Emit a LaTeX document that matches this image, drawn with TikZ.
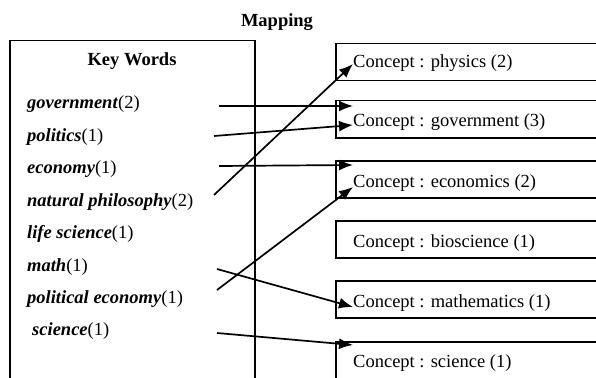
\documentclass[tikz,border=0pt]{standalone}
\usepackage{fontspec}
\setmainfont{Liberation Serif}
\usetikzlibrary{arrows.meta}
\begin{document}
\begin{tikzpicture}[x=1pt,y=-1pt,
  txt/.style={font=\fontsize{18.5}{22}\selectfont, inner sep=0pt, anchor=base west},
  ttl/.style={font=\fontsize{18.5}{22}\selectfont\bfseries, inner sep=0pt, anchor=base},
  kw/.style={txt},
  cbox/.style={draw, line width=1.5pt, anchor=north west, minimum width=300pt, minimum height=37pt, inner sep=0pt},
  conn/.style={line width=1.7pt, -{Latex[length=14pt,width=11pt]}}]
\clip (0,0) rectangle (596,377);
\useasboundingbox (0,0) rectangle (596,377);
% title
\node[ttl] (map) at (277,27) {Mapping};
% left box
\node[draw, line width=1.5pt, anchor=north west, minimum width=245pt, minimum height=360pt, inner sep=0pt] (kbox) at (9,40) {};
\node[ttl] (kwt) at (132,66) {Key Words};
\node[kw] (k1) at (27,109) {\textbf{\textit{government}}(2)};
\node[kw] (k2) at (27,141.4) {\textbf{\textit{politics}}(1)};
\node[kw] (k3) at (27,173.8) {\textbf{\textit{economy}}(1)};
\node[kw] (k4) at (27,206.2) {\textbf{\textit{natural philosophy}}(2)};
\node[kw] (k5) at (27,238.6) {\textbf{\textit{life science}}(1)};
\node[kw] (k6) at (27,271) {\textbf{\textit{math}}(1)};
\node[kw] (k7) at (27,303.4) {\textbf{\textit{political economy}}(1)};
\node[kw] (k8) at (32,335.8) {\textbf{\textit{science}}(1)};
% right boxes
\node[cbox] (b1) at (335,43) {};
\node[cbox] (b2) at (335,100) {};
\node[cbox] (b3) at (335,160) {};
\node[cbox] (b4) at (335,220) {};
\node[cbox] (b5) at (335,280) {};
\node[cbox] (b6) at (335,341) {};
\node[txt] (c1) at (353,68) {Concept : physics (2)};
\node[txt] (c2) at (353,126) {Concept : government (3)};
\node[txt] (c3) at (353,187) {Concept : economics (2)};
\node[txt] (c4) at (353,247) {Concept : bioscience (1)};
\node[txt] (c5) at (353,307) {Concept : mathematics (1)};
\node[txt] (c6) at (353,367) {Concept : science (1)};
% connector ends
\coordinate (s1) at (219,106);  \coordinate (e1) at (353,106);
\coordinate (s2) at (214,136);  \coordinate (e2) at (353,125);
\coordinate (s3) at (219,166);  \coordinate (e3) at (353,165);
\coordinate (s4) at (214,195);  \coordinate (e4) at (353,64);
\coordinate (s5) at (217,290);  \coordinate (e5) at (353,187);
\coordinate (s6) at (217,269);  \coordinate (e6) at (353,307);
\coordinate (s7) at (217,333);  \coordinate (e7) at (353,345);
\draw[conn] (s1) -- (e1);
\draw[conn] (s2) -- (e2);
\draw[conn] (s3) -- (e3);
\draw[conn] (s4) -- (e4);
\draw[conn] (s5) -- (e5);
\draw[conn] (s6) -- (e6);
\draw[conn] (s7) -- (e7);
\end{tikzpicture}
\end{document}
